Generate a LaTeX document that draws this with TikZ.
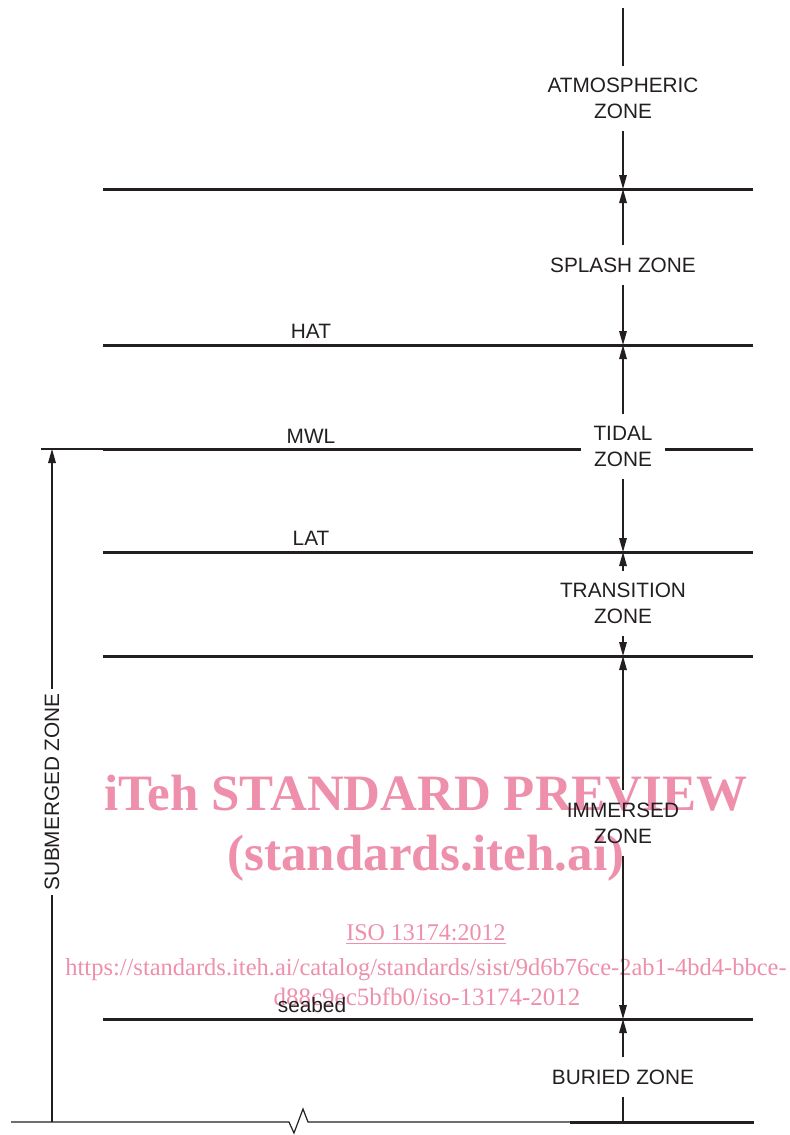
\documentclass[tikz,border=0pt]{standalone}
\usepackage{fontspec}
\setmainfont{Liberation Sans}
\newfontfamily\wmfont{Liberation Serif}
\usetikzlibrary{arrows.meta}
\definecolor{ink}{RGB}{35,31,32}
\definecolor{wmpink}{RGB}{238,143,172}

\begin{document}
\begin{tikzpicture}[x=0.5pt,y=-0.5pt,
  level/.style={draw=ink,line width=1.5pt},
  fine/.style={draw=ink,line width=0.6pt},
  tip/.style={-{Triangle[length=7pt,width=3.8pt]}},
  zone/.style={text=ink,font=\fontsize{10.4}{13}\selectfont,align=center,inner xsep=6pt,inner ysep=6pt},
  tag/.style={text=ink,font=\fontsize{10.4}{13}\selectfont,anchor=base,inner sep=0pt},
  wm/.style={text=wmpink,anchor=base,inner sep=0pt}]
\useasboundingbox (0,0) rectangle (789,1135);

% watermark, underneath the drawing
\node[wm,font=\wmfont\bfseries\fontsize{25.5}{30}\selectfont] (wm1) at (426,810) {iTeh STANDARD PREVIEW};
\node[wm,font=\wmfont\bfseries\fontsize{25.5}{30}\selectfont] (wm2) at (426,870) {(standards.iteh.ai)};
\node[wm,font=\wmfont\fontsize{12}{14}\selectfont] (wm3) at (426,940) {\underline{ISO 13174:2012}};
\node[wm,font=\wmfont\fontsize{12.25}{14}\selectfont] (wm4) at (426,975) {https://standards.iteh.ai/catalog/standards/sist/9d6b76ce-2ab1-4bd4-bbce-};
\node[wm,font=\wmfont\fontsize{12.5}{14}\selectfont] (wm5) at (427,1005) {d88c9ec5bfb0/iso-13174-2012};

% level lines
\coordinate (l1w) at (103,189);  \coordinate (l1c) at (623,189);  \coordinate (l1e) at (753,189);
\coordinate (l2w) at (103,345);  \coordinate (l2c) at (623,345);  \coordinate (l2e) at (753,345);
\coordinate (l3x) at (41,449);   \coordinate (l3w) at (103,449);  \coordinate (l3e) at (753,449);
\coordinate (l4w) at (103,552);  \coordinate (l4c) at (623,552);  \coordinate (l4e) at (753,552);
\coordinate (l5w) at (103,656);  \coordinate (l5c) at (623,656);  \coordinate (l5e) at (753,656);
\coordinate (l6w) at (103,1019); \coordinate (l6c) at (623,1019); \coordinate (l6e) at (753,1019);
\coordinate (l7x) at (11,1122);  \coordinate (l7m) at (570,1122); \coordinate (l7c) at (623,1122); \coordinate (l7e) at (754,1122);
\coordinate (top) at (623,8);

% zone labels on the axis
\node[zone] (atm) at (623,98.5) {ATMOSPHERIC\\ZONE};
\node[zone] (splash) at (623,265) {SPLASH ZONE};
\node[zone] (tidal) at (623,446.5) {TIDAL\\ZONE};
\node[zone] (trans) at (623,603.5) {TRANSITION\\ZONE};
\node[zone] (immersed) at (623,823) {IMMERSED\\ZONE};
\node[zone] (buried) at (623,1077) {BURIED ZONE};

\draw[level] (l1w) -- (l1e);
\draw[level] (l2w) -- (l2e);
\draw[fine] (l3x) -- (l3w);
\draw[level] (l3w) -- (l3w -| tidal.west);
\draw[level] (l3e -| tidal.east) -- (l3e);
\draw[level] (l4w) -- (l4e);
\draw[level] (l5w) -- (l5e);
\draw[level] (l6w) -- (l6e);
\draw[fine] (l7x) -- (289,1122) -- (294,1133) -- (303,1109) -- (308,1122) -- (l7m);
\draw[level] (l7m) -- (l7e);

% level names
\node[tag] (hat) at (311,338) {HAT};
\node[tag] (mwl) at (311,443) {MWL};
\node[tag] (lat) at (311,545) {LAT};
\node[tag] (seabed) at (312,1012) {seabed};

% axis dimension arrows
\draw[fine] (top) -- (atm);
\draw[fine,tip] (atm) -- (l1c);
\draw[fine,tip] (splash) -- (l1c);
\draw[fine,tip] (splash) -- (l2c);
\draw[fine,tip] (tidal) -- (l2c);
\draw[fine,tip] (tidal) -- (l4c);
\draw[fine,tip] (trans) -- (l4c);
\draw[fine,tip] (trans) -- (l5c);
\draw[fine,tip] (immersed) -- (l5c);
\draw[fine,tip] (immersed) -- (l6c);
\draw[fine,tip] (buried) -- (l6c);
\draw[fine] (buried) -- (l7c);

% submerged zone span
\coordinate (s1) at (52,449);
\coordinate (s2) at (52,1122);
\node[text=ink,font=\fontsize{10.4}{13}\selectfont,rotate=90,inner xsep=2pt,inner ysep=2pt] (sub) at (52,792) {SUBMERGED ZONE};
\draw[fine,tip] (sub) -- (s1);
\draw[fine] (sub) -- (s2);
\end{tikzpicture}
\end{document}
